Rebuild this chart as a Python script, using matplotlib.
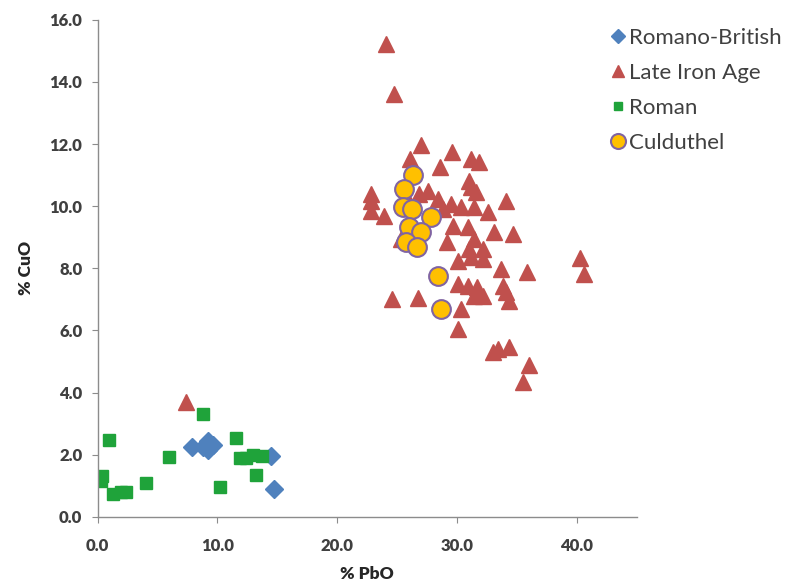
import numpy as np
import matplotlib
matplotlib.use('Agg')
import matplotlib.pyplot as plt

plt.rcParams['font.family'] = ['Lato', 'DejaVu Sans']

# Romano-British (diamonds)
rb_pbo = [7.9, 8.8, 9.2, 9.2, 9.6, 14.5, 14.7]
rb_cuo = [2.26, 2.26, 2.45, 2.16, 2.32, 1.97, 0.90]

# Late Iron Age (triangles)
lia_pbo = [24.1, 24.7, 27.0, 29.6, 26.1, 31.2, 31.8, 28.6, 31.0, 31.2,
           31.6, 27.6, 26.8, 22.8, 22.8, 22.8, 23.9, 28.4, 29.5, 30.3,
           28.8, 31.4, 34.1, 32.6, 29.7, 33.1, 34.7, 30.9, 29.2, 31.4,
           31.0, 32.2, 31.2, 30.1, 32.2, 33.7, 35.8, 30.1, 30.9, 31.7,
           31.4, 32.2, 33.8, 34.1, 34.3, 24.6, 26.7, 30.3, 30.1, 33.0,
           33.4, 34.3, 36.0, 35.5, 40.3, 40.6, 7.4, 25.3, 26.1]
lia_cuo = [15.23, 13.61, 11.97, 11.74, 11.52, 11.52, 11.42, 11.26, 10.81, 10.61,
           10.45, 10.48, 10.39, 10.39, 10.16, 9.84, 9.68, 10.23, 10.06, 9.97,
           9.90, 9.97, 10.16, 9.81, 9.35, 9.16, 9.10, 9.32, 8.84, 8.94,
           8.61, 8.61, 8.35, 8.23, 8.29, 7.97, 7.87, 7.48, 7.42, 7.39,
           7.10, 7.10, 7.42, 7.23, 6.94, 7.00, 7.06, 6.68, 6.03, 5.29,
           5.39, 5.48, 4.90, 4.35, 8.32, 7.81, 3.71, 8.94, 10.06]

# Roman (squares)
rom_pbo = [0.95, 0.36, 0.28, 1.28, 1.95, 2.37, 4.04, 5.97, 8.81, 10.23,
           11.57, 11.91, 12.41, 13.0, 13.75, 13.25]
rom_cuo = [2.48, 1.32, 1.16, 0.74, 0.81, 0.81, 1.10, 1.94, 3.32, 0.97,
           2.55, 1.90, 1.90, 2.00, 1.97, 1.35]

# Culduthel (circles)
cul_pbo = [26.3, 25.55, 25.46, 26.22, 27.81, 25.97, 26.97, 25.72, 26.64, 28.39, 28.64]
cul_cuo = [11.00, 10.55, 9.97, 9.90, 9.65, 9.32, 9.16, 8.84, 8.68, 7.74, 6.68]

fig = plt.figure(figsize=(8, 5.82), dpi=100)
ax = fig.add_axes([0.122, 0.112, 0.674, 0.854])

ax.plot(rb_pbo, rb_cuo, 'D', color='#4F81BD', ms=9, mec='#4F81BD', label='Romano-British')
ax.plot(lia_pbo, lia_cuo, '^', color='#C0504D', ms=11.5, mec='#C0504D', label='Late Iron Age')
ax.plot(rom_pbo, rom_cuo, 's', color='#1FA33A', ms=8, mec='#1FA33A', label='Roman')
ax.plot(cul_pbo, cul_cuo, 'o', color='#FFC000', ms=13.5, mec='#8064A2', mew=1.5, label='Culduthel')

ax.set_xlim(0, 45)
ax.set_ylim(0, 16)
ax.set_xticks(np.arange(0, 41, 10))
ax.set_yticks(np.arange(0, 17, 2))
ax.xaxis.set_major_formatter(matplotlib.ticker.FormatStrFormatter('%.1f'))
ax.yaxis.set_major_formatter(matplotlib.ticker.FormatStrFormatter('%.1f'))

for s in ['top', 'right']:
    ax.spines[s].set_visible(False)
for s in ['left', 'bottom']:
    ax.spines[s].set_color('#8C8C8C')
    ax.spines[s].set_linewidth(1.0)
ax.tick_params(axis='both', direction='out', length=4, color='#8C8C8C',
               labelsize=12, labelcolor='#404040')
ax.tick_params(axis='y', pad=7)
ax.tick_params(axis='x', pad=11)
for lab in ax.get_xticklabels() + ax.get_yticklabels():
    lab.set_fontweight('heavy')

ax.set_xlabel('% PbO', fontsize=12.5, fontweight='heavy', color='#262626', labelpad=9)
ax.set_ylabel('% CuO', fontsize=12.5, fontweight='heavy', color='#262626', labelpad=11)

leg = fig.legend(loc='upper left', bbox_to_anchor=(0.735, 0.987), frameon=False,
                 fontsize=16, handletextpad=0.05, handlelength=0.9,
                 labelspacing=0.68, markerscale=0.8)
for t in leg.get_texts():
    t.set_color('#404040')

fig.savefig('out.png', dpi=100)
